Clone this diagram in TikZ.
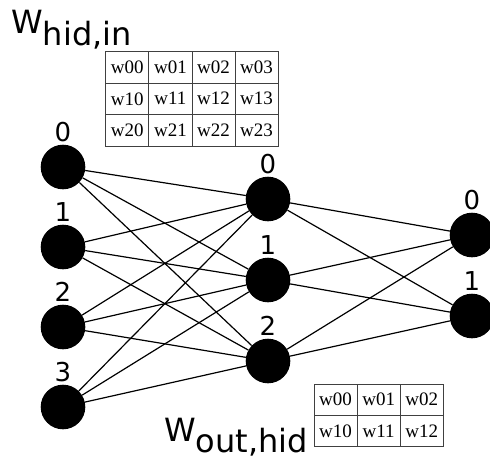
\documentclass[tikz,border=0pt]{standalone}
\usepackage{fontspec}
\newfontfamily\labfont{DejaVu Sans}
\newfontfamily\cellfont{Liberation Serif}
\tikzset{
  neuron/.style={circle, fill=black, minimum size=44.6pt, inner sep=0pt},
  num/.style={font=\labfont\fontsize{26}{26}\selectfont, inner sep=0pt, anchor=base},
  cell/.style={draw=black!75, line width=0.8pt, minimum width=43.1pt, minimum height=31.4pt,
               inner sep=0pt, font=\cellfont\fontsize{19}{19}\selectfont},
  wlabel/.style={font=\labfont\fontsize{32}{32}\selectfont, inner sep=0pt, anchor=base west},
  wire/.style={line width=1.2pt}
}

\begin{document}
\begin{tikzpicture}[x=1pt, y=-1pt]
            \useasboundingbox (0,0) rectangle (490,458);
            % Input layer
            \node[neuron] (i0) at ( 63.0, 167.0) {};
            \node[neuron] (i1) at ( 63.0, 247.0) {};
            \node[neuron] (i2) at ( 63.0, 327.0) {};
            \node[neuron] (i3) at ( 63.0, 407.0) {};
            \node[num]    (li0) at ( 63.0, 141.0) {0};
            \node[num]    (li1) at ( 63.0, 221.0) {1};
            \node[num]    (li2) at ( 63.0, 301.0) {2};
            \node[num]    (li3) at ( 63.0, 381.0) {3};
            % Hidden layer
            \node[neuron] (h0) at (268.0, 199.0) {};
            \node[neuron] (h1) at (268.0, 280.0) {};
            \node[neuron] (h2) at (268.0, 361.0) {};
            \node[num]    (lh0) at (268.0, 173.0) {0};
            \node[num]    (lh1) at (268.0, 254.0) {1};
            \node[num]    (lh2) at (268.0, 335.0) {2};
            % Output layer
            \node[neuron] (o0) at (472.0, 235.0) {};
            \node[neuron] (o1) at (472.0, 316.0) {};
            \node[num]    (lo0) at (472.0, 209.0) {0};
            \node[num]    (lo1) at (472.0, 290.0) {1};
            % Input -> hidden
            \draw[wire] (i0) -- (h0)  (i0) -- (h1)  (i0) -- (h2);
            \draw[wire] (i1) -- (h0)  (i1) -- (h1)  (i1) -- (h2);
            \draw[wire] (i2) -- (h0)  (i2) -- (h1)  (i2) -- (h2);
            \draw[wire] (i3) -- (h0)  (i3) -- (h1)  (i3) -- (h2);
            % Hidden -> output
            \draw[wire] (h0) -- (o0)  (h0) -- (o1);
            \draw[wire] (h1) -- (o0)  (h1) -- (o1);
            \draw[wire] (h2) -- (o0)  (h2) -- (o1);
            % W hid,in
            \node[wlabel] (whi) at ( 11.0,  33.0) {W\raisebox{-12pt}{hid,in}};
            \node[cell] (a00) at (127.3,  67.4) {w00};
            \node[cell] (a01) at (170.4,  67.4) {w01};
            \node[cell] (a02) at (213.5,  67.4) {w02};
            \node[cell] (a03) at (256.6,  67.4) {w03};
            \node[cell] (a10) at (127.3,  98.8) {w10};
            \node[cell] (a11) at (170.4,  98.8) {w11};
            \node[cell] (a12) at (213.5,  98.8) {w12};
            \node[cell] (a13) at (256.6,  98.8) {w13};
            \node[cell] (a20) at (127.3, 130.2) {w20};
            \node[cell] (a21) at (170.4, 130.2) {w21};
            \node[cell] (a22) at (213.5, 130.2) {w22};
            \node[cell] (a23) at (256.6, 130.2) {w23};
            % W out,hid
            \node[wlabel] (woh) at (164.0, 441.0) {W\raisebox{-11pt}{out,hid}};
            \node[cell] (b00) at (335.6, 399.7) {w00};
            \node[cell] (b01) at (378.7, 399.7) {w01};
            \node[cell] (b02) at (421.8, 399.7) {w02};
            \node[cell] (b10) at (335.6, 431.1) {w10};
            \node[cell] (b11) at (378.7, 431.1) {w11};
            \node[cell] (b12) at (421.8, 431.1) {w12};
\end{tikzpicture}
\end{document}
